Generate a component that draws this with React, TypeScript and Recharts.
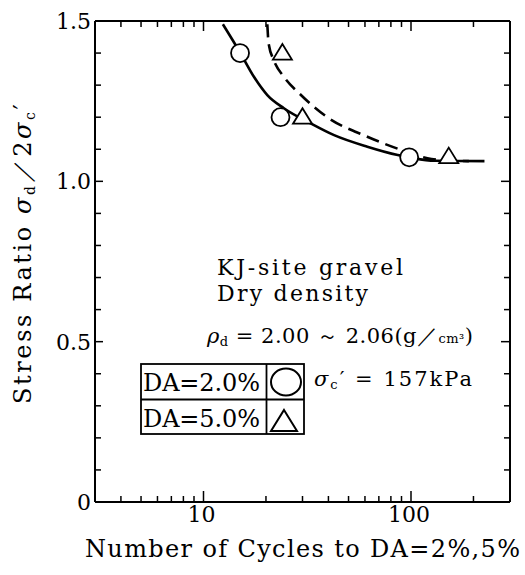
import React from 'react';
import {
  ComposedChart,
  Line,
  Scatter,
  XAxis,
  YAxis,
  Customized
} from 'recharts';

// DA = 2.0 % test points (circles)
const circleN = [15, 23.5, 98];
const circleR = [1.4, 1.2, 1.075];
// DA = 5.0 % test points (triangles)
const triN = [24, 30, 152];
const triR = [1.4, 1.2, 1.077];

// fitted curves
const solidN = [12.4, 15, 17.5, 20.3, 24.4, 32.8, 42.6, 61.6, 86.3, 98, 130, 226];
const solidR = [1.49, 1.402, 1.326, 1.269, 1.228, 1.181, 1.144, 1.108, 1.082, 1.075, 1.064, 1.063];
const dashN = [20.3, 20.6, 21.8, 24.4, 29.4, 39.5, 61.6, 89.6, 120, 150, 190];
const dashR = [1.49, 1.43, 1.378, 1.326, 1.27, 1.2, 1.139, 1.098, 1.072, 1.065, 1.063];

const xTicks = [4, 5, 6, 7, 8, 9, 10, 20, 30, 40, 50, 60, 70, 80, 90, 100, 200];
const xLabels = [10, 100];
const yTicks = [0, 0.1, 0.2, 0.3, 0.4, 0.5, 0.6, 0.7, 0.8, 0.9, 1.0, 1.1, 1.2, 1.3, 1.4, 1.5];
const yLabels = [0, 0.5, 1.0, 1.5];

const toRows = (ns: number[], rs: number[]) => ns.map((n, i) => ({ n, r: rs[i] }));
const circles = toRows(circleN, circleR);
const triangles = toRows(triN, triR);
const solid = toRows(solidN, solidR);
const dashed = toRows(dashN, dashR);

const FONT = '"DejaVu Serif", "Liberation Serif", serif';
const INK = '#000';
const txt = { fontFamily: FONT, fill: INK };

const isLabel = (list: number[], v: number) => list.some((l) => Math.abs(l - v) < 1e-6);

const BottomTick = (props: any) => {
  const { x, y, payload } = props;
  const major = isLabel(xLabels, payload.value);
  return (
    <g>
      <line x1={x} x2={x} y1={y} y2={y - (major ? 11 : 6)} stroke={INK} strokeWidth={1.5} />
      {major && (
        <text x={x - 2} y={y + 20} textAnchor="middle" fontSize={22} style={txt}>
          {payload.value}
        </text>
      )}
    </g>
  );
};

const TopTick = (props: any) => {
  const { x, y, payload } = props;
  const major = isLabel(xLabels, payload.value);
  return <line x1={x} x2={x} y1={y} y2={y + (major ? 10 : 6)} stroke={INK} strokeWidth={1.5} />;
};

const LeftTick = (props: any) => {
  const { x, y, payload } = props;
  const v = payload.value;
  const major = isLabel(yLabels, v);
  return (
    <g>
      <line x1={x} x2={x + (major ? 8 : 6)} y1={y} y2={y} stroke={INK} strokeWidth={1.5} />
      {major && (
        <text x={x - 4} y={y + 8} textAnchor="end" fontSize={22} style={txt}>
          {v === 0 ? '0' : v.toFixed(1)}
        </text>
      )}
    </g>
  );
};

const RightTick = (props: any) => {
  const { x, y, payload } = props;
  const major = isLabel(yLabels, payload.value);
  return <line x1={x} x2={x - (major ? 9 : 6)} y1={y} y2={y} stroke={INK} strokeWidth={1.5} />;
};

const CircleMark = (props: any) => (
  <circle cx={props.cx} cy={props.cy} r={9} fill="#fff" stroke={INK} strokeWidth={1.8} />
);

const TriangleMark = (props: any) => {
  const { cx, cy } = props;
  return (
    <path
      d={`M${cx},${cy - 9} L${cx + 9.5},${cy + 6.5} L${cx - 9.5},${cy + 6.5} Z`}
      fill="#fff"
      stroke={INK}
      strokeWidth={1.8}
    />
  );
};

const Annotations = () => (
  <g>
    {/* axis titles */}
    <text
      x={31}
      y={254}
      transform="rotate(-90, 31, 254)"
      textAnchor="middle"
      fontSize={24}
      textLength={300}
      lengthAdjust="spacing"
      style={txt}
    >
      Stress Ratio <tspan fontStyle="italic">σ</tspan>
      <tspan fontSize={14} dy={4}>d</tspan>
      <tspan dy={-4}>／2</tspan>
      <tspan fontStyle="italic">σ</tspan>
      <tspan fontSize={14} dy={4}>c</tspan>
      <tspan dy={-4}>′</tspan>
    </text>
    <text x={85} y={557} fontSize={24} textLength={435} lengthAdjust="spacing" style={txt}>
      Number of Cycles to DA=2%,5%
    </text>

    {/* test conditions */}
    <text x={217} y={275} fontSize={22} textLength={186} lengthAdjust="spacing" style={txt}>
      KJ-site gravel
    </text>
    <text x={217} y={301} fontSize={22} textLength={151} lengthAdjust="spacing" style={txt}>
      Dry density
    </text>
    <text x={207} y={343} fontSize={21} textLength={266} lengthAdjust="spacing" style={txt}>
      <tspan fontStyle="italic">ρ</tspan>
      <tspan fontSize={13} dy={3}>d</tspan>
      <tspan dy={-3}> = 2.00 ～ 2.06(g／</tspan>
      <tspan fontSize={13}>cm³</tspan>
      <tspan>)</tspan>
    </text>
    <text x={314} y={386} fontSize={21} textLength={158} lengthAdjust="spacing" style={txt}>
      <tspan fontStyle="italic">σ</tspan>
      <tspan fontSize={13} dy={3}>c</tspan>
      <tspan dy={-3}>′ = 157kPa</tspan>
    </text>

    {/* symbol legend box */}
    <g fill="none" stroke={INK} strokeWidth={1.8}>
      <rect x={141} y={364} width={163} height={70} />
      <line x1={141} x2={304} y1={399.5} y2={399.5} />
      <line x1={266.5} x2={266.5} y1={364} y2={434} />
      <ellipse cx={286} cy={382} rx={15} ry={13.5} strokeWidth={2} />
      <path d="M284,410 L297,431 L271,431 Z" strokeWidth={2} />
    </g>
    <text x={143} y={391} fontSize={24} textLength={117} lengthAdjust="spacing" style={txt}>
      DA=2.0%
    </text>
    <text x={143} y={427} fontSize={24} textLength={117} lengthAdjust="spacing" style={txt}>
      DA=5.0%
    </text>
  </g>
);

export default function App() {
  const axisLine = { stroke: INK, strokeWidth: 2 };
  return (
    <div style={{ position: 'absolute', left: 0, top: 0, width: 525, height: 575, background: '#fff' }}>
      <ComposedChart width={525} height={575} margin={{ top: 20, right: 14, bottom: 72, left: 94 }}>
        <XAxis
          xAxisId="b"
          type="number"
          dataKey="n"
          scale="log"
          domain={[3, 300]}
          allowDataOverflow
          ticks={xTicks}
          interval={0}
          height={1}
          tickSize={0}
          tickMargin={0}
          tickLine={false}
          axisLine={axisLine}
          tick={<BottomTick />}
        />
        <XAxis
          xAxisId="t"
          orientation="top"
          type="number"
          dataKey="n"
          scale="log"
          domain={[3, 300]}
          allowDataOverflow
          ticks={xTicks}
          interval={0}
          height={1}
          tickSize={0}
          tickMargin={0}
          tickLine={false}
          axisLine={axisLine}
          tick={<TopTick />}
        />
        <YAxis
          yAxisId="l"
          type="number"
          dataKey="r"
          domain={[0, 1.5]}
          allowDataOverflow
          ticks={yTicks}
          interval={0}
          width={1}
          tickSize={0}
          tickMargin={0}
          tickLine={false}
          axisLine={axisLine}
          tick={<LeftTick />}
        />
        <YAxis
          yAxisId="r"
          orientation="right"
          type="number"
          dataKey="r"
          domain={[0, 1.5]}
          allowDataOverflow
          ticks={yTicks}
          interval={0}
          width={1}
          tickSize={0}
          tickMargin={0}
          tickLine={false}
          axisLine={axisLine}
          tick={<RightTick />}
        />
        <Line
          xAxisId="b"
          yAxisId="l"
          data={solid}
          dataKey="r"
          type="monotone"
          stroke={INK}
          strokeWidth={2.6}
          dot={false}
          activeDot={false}
          isAnimationActive={false}
        />
        <Line
          xAxisId="b"
          yAxisId="l"
          data={dashed}
          dataKey="r"
          type="monotone"
          stroke={INK}
          strokeWidth={2.6}
          strokeDasharray="13 7"
          dot={false}
          activeDot={false}
          isAnimationActive={false}
        />
        <Scatter xAxisId="b" yAxisId="l" data={circles} dataKey="r" shape={CircleMark} isAnimationActive={false} />
        <Scatter xAxisId="b" yAxisId="l" data={triangles} dataKey="r" shape={TriangleMark} isAnimationActive={false} />
        <Customized component={Annotations} />
      </ComposedChart>
    </div>
  );
}
